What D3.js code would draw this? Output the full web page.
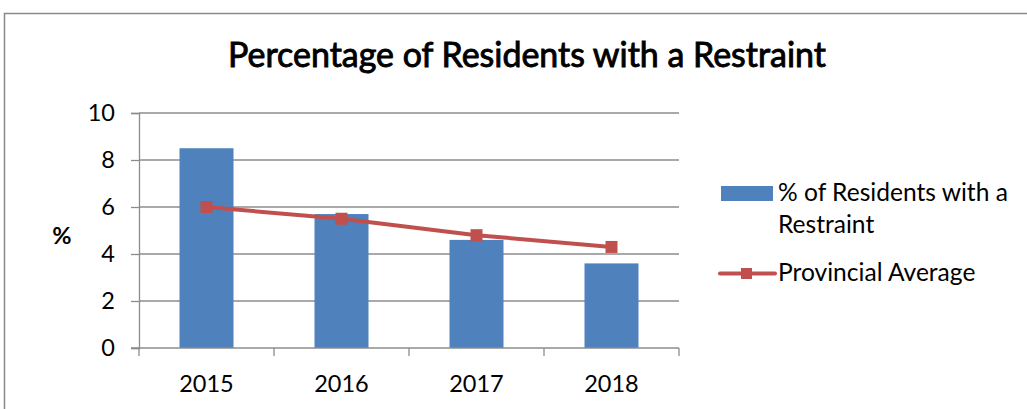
<!DOCTYPE html>
<html>
<head>
<meta charset="utf-8">
<script src="https://cdn.jsdelivr.net/npm/d3@7"></script>
<style>
  html, body { margin: 0; padding: 0; background: #fff; }
  svg { display: block; font-family: Lato, "Open Sans", sans-serif; }
</style>
</head>
<body>
<svg id="chart" width="1027" height="409"></svg>
<script>
// chart values
const years = ["2015", "2016", "2017", "2018"];
const residentPct = [8.5, 5.7, 4.6, 3.6];
const provincialAvg = [6.0, 5.5, 4.8, 4.3];
const yTicks = [0, 2, 4, 6, 8, 10];
const title = "Percentage of Residents with a Restraint";
const barLabel = ["% of Residents with a", "Restraint"];
const lineLabel = "Provincial Average";

const BLUE = "#4f81bd", RED = "#c0504d", GRID = "#8c8c8c";
const FS = 23.5;

const svg = d3.select("#chart");

// fit a text node to a target width by scaling its font size
function fitWidth(sel, base, target) {
  const w = sel.node().getComputedTextLength();
  sel.attr("font-size", base * target / w);
}

// outer frame (top + left edges visible)
svg.append("path")
  .attr("d", "M4.5,409 V13.5 H1027")
  .attr("fill", "none").attr("stroke", "#8a8a8a").attr("stroke-width", 1.5);

const plot = { left: 139, right: 679, top: 113, bottom: 348 };

const x = d3.scaleBand().domain(years)
  .range([plot.left, plot.right]).paddingInner(0.6).paddingOuter(0.3);
const xCat = d3.scaleBand().domain(years).range([plot.left, plot.right]);
const y = d3.scaleLinear().domain([0, 10]).range([plot.bottom, plot.top]);

// gridlines
svg.append("g").selectAll("line").data(yTicks.filter(d => d > 0)).join("line")
  .attr("x1", plot.left).attr("x2", plot.right)
  .attr("y1", d => y(d)).attr("y2", d => y(d))
  .attr("stroke", GRID).attr("stroke-width", 1.3);

// y axis
const yAxis = svg.append("g").attr("transform", `translate(${plot.left},0)`)
  .call(d3.axisLeft(y).tickValues(yTicks).tickSize(8).tickPadding(16).tickFormat(d3.format("d")));
yAxis.select(".domain").attr("stroke", GRID).attr("stroke-width", 1.3);
yAxis.selectAll(".tick line").attr("stroke", GRID).attr("stroke-width", 1.3);
yAxis.selectAll(".tick text").attr("font-size", FS).attr("fill", "#000")
  .attr("font-family", "Lato, sans-serif");

// bars
svg.append("g").selectAll("rect").data(residentPct).join("rect")
  .attr("x", (d, i) => x(years[i]))
  .attr("width", x.bandwidth())
  .attr("y", d => y(d))
  .attr("height", d => y(0) - y(d))
  .attr("fill", BLUE);

// x axis
const xAxis = svg.append("g").attr("transform", `translate(0,${plot.bottom})`);
xAxis.append("line").attr("x1", plot.left - 8).attr("x2", plot.right)
  .attr("stroke", GRID).attr("stroke-width", 1.3);
const xEdges = years.map(d => xCat(d)).concat([plot.right]);
xAxis.selectAll("line.tk").data(xEdges).join("line").attr("class", "tk")
  .attr("x1", d => d).attr("x2", d => d).attr("y1", 0).attr("y2", 8)
  .attr("stroke", GRID).attr("stroke-width", 1.3);
xAxis.selectAll("text").data(years).join("text")
  .attr("x", d => xCat(d) + xCat.bandwidth() / 2)
  .attr("y", 44)
  .attr("text-anchor", "middle").attr("font-size", FS).attr("fill", "#000")
  .text(d => d);

// provincial average line
const cx = i => xCat(years[i]) + xCat.bandwidth() / 2;
svg.append("path").datum(provincialAvg)
  .attr("d", d3.line().x((d, i) => cx(i)).y(d => y(d)))
  .attr("fill", "none").attr("stroke", RED).attr("stroke-width", 4)
  .attr("stroke-linejoin", "round").attr("stroke-linecap", "round");
svg.append("g").selectAll("rect").data(provincialAvg).join("rect")
  .attr("x", (d, i) => cx(i) - 6).attr("y", d => y(d) - 6)
  .attr("width", 12).attr("height", 12).attr("fill", RED);

// y axis title
svg.append("text").attr("x", 62).attr("y", 244).attr("text-anchor", "middle")
  .attr("font-size", FS).attr("font-weight", "bold").text("%");

// title (regular weight, slightly thickened stroke)
const t = svg.append("text").attr("x", 527).attr("y", 67).attr("text-anchor", "middle")
  .attr("font-size", 30).attr("fill", "#000")
  .attr("stroke", "#000").attr("stroke-width", 0.9).text(title);
fitWidth(t, 30, 598);

// legend
const lg = svg.append("g");
lg.append("rect").attr("x", 721).attr("y", 186).attr("width", 52).attr("height", 15).attr("fill", BLUE);
const l1 = lg.append("text").attr("x", 778).attr("y", 201).attr("font-size", FS).text(barLabel[0]);
fitWidth(l1, FS, 230);
lg.append("text").attr("x", 778).attr("y", 233).attr("font-size", l1.attr("font-size")).text(barLabel[1]);
lg.append("line").attr("x1", 720).attr("x2", 775).attr("y1", 273.5).attr("y2", 273.5)
  .attr("stroke", RED).attr("stroke-width", 4).attr("stroke-linecap", "round");
lg.append("rect").attr("x", 741).attr("y", 268).attr("width", 11).attr("height", 11).attr("fill", RED);
lg.append("text").attr("x", 778).attr("y", 281).attr("font-size", l1.attr("font-size")).text(lineLabel);
</script>
</body>
</html>
